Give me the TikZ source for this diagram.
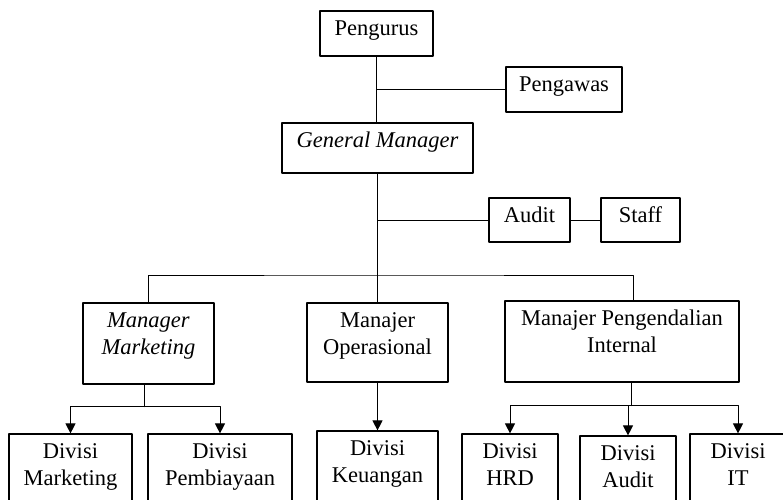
\documentclass[tikz,border=0pt]{standalone}
\usepackage{fontspec}
\setmainfont{Liberation Serif}
\usetikzlibrary{arrows.meta}
\usetikzlibrary{calc}
\newcommand{\tworows}[2]{\begin{tabular}[t]{@{}c@{}}#1\\#2\end{tabular}}
\tikzset{
  box/.style={draw,line width=1.2pt,inner sep=0pt,text height=24pt,font=\fontsize{22.5}{27}\selectfont},
  link/.style={line width=1pt},
}
\begin{document}
\begin{tikzpicture}[line cap=round,line join=round,>={Triangle[length=10pt,width=10pt]},x=1pt,y=-1pt]
\useasboundingbox (0,0) rectangle (783,499);
\clip (0,0) rectangle (783,499);
% top levels
\node[box,minimum width=113pt,text depth=21pt] (pengurus) at (376.5,33.5) {Pengurus};
\node[box,minimum width=116pt,text depth=21pt] (pengawas) at (564,89.5) {Pengawas};
\node[box,minimum width=191pt,text depth=26pt] (gm) at (377.5,148) {\textit{General Manager}};
\node[box,minimum width=81pt,text depth=20pt] (audit) at (529.5,220) {Audit};
\node[box,minimum width=79pt,text depth=20pt] (staff) at (640.5,220) {Staff};
% managers
\node[box,minimum width=131pt,text depth=57pt] (mm) at (148.5,343.5) {\tworows{\textit{Manager}}{\textit{Marketing}}};
\node[box,minimum width=141pt,text depth=55pt] (mo) at (377.5,342.5) {\tworows{Manajer}{Operasional}};
\node[box,minimum width=234pt,text depth=57pt] (mpi) at (622,341.5) {\tworows{Manajer Pengendalian}{Internal}};
% divisions
\node[box,minimum width=123pt,text depth=56pt] (dm) at (70.5,474) {\tworows{Divisi}{Marketing}};
\node[box,minimum width=144pt,text depth=56pt] (dp) at (220,474) {\tworows{Divisi}{Pembiayaan}};
\node[box,minimum width=121pt,text depth=56pt] (dk) at (377.5,471) {\tworows{Divisi}{Keuangan}};
\node[box,minimum width=96pt,text depth=56pt] (dhrd) at (510,474) {\tworows{Divisi}{HRD}};
\node[box,minimum width=96pt,text depth=56pt] (daud) at (628,476) {\tworows{Divisi}{Audit}};
\node[box,minimum width=96pt,text depth=56pt] (dit) at (738,474) {\tworows{Divisi}{IT}};
% lines
\draw[link] (pengurus.south) -- (pengurus.south |- gm.north);
\draw[link] (pengawas.west) -- (pengawas.west -| pengurus.south);
\draw[link] (gm.south) -- (mo.north);
\draw[link] (audit.west) -- (audit.west -| gm.south);
\draw[link] (audit) -- (staff);
\coordinate (bus) at (377.5,275);
\draw[link] (mm.north) |- (bus) -| ([xshift=11pt]mpi.north);
\draw[link] ([xshift=-4pt]mm.south) -- ++(0,22) coordinate (mmsplit);
\draw[link,->] (mmsplit) -| (dm.north);
\draw[link,->] (mmsplit) -| (dp.north);
\draw[link,->] (mo) -- (dk);
\draw[link] ([xshift=9pt]mpi.south) -- ++(0,23) coordinate (mpisplit);
\draw[link,->] (mpisplit) -| (dhrd.north);
\draw[link,->] (mpisplit) -| (daud.north);
\draw[link,->] (mpisplit) -| (dit.north);
\end{tikzpicture}
\end{document}
